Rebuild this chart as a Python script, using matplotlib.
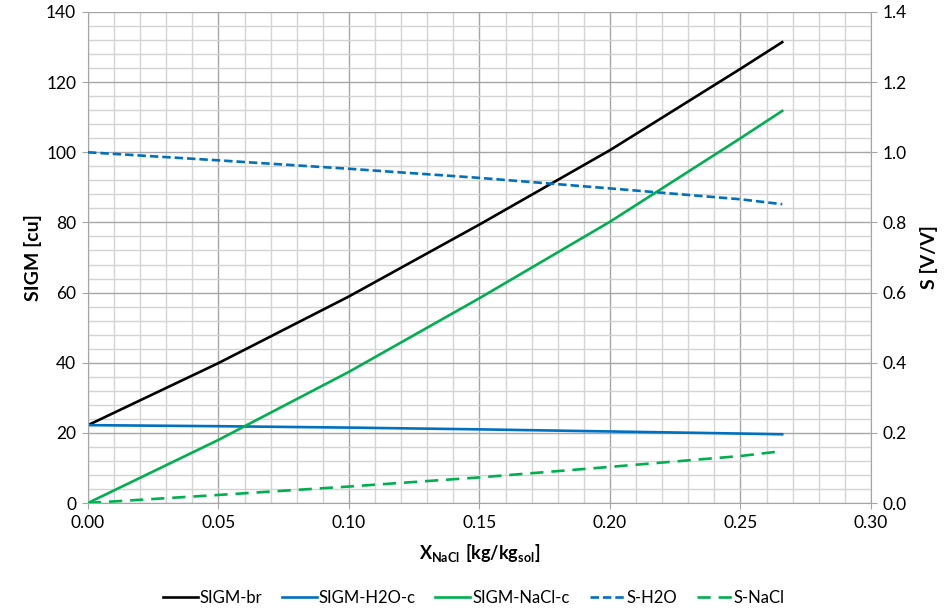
import matplotlib
matplotlib.use("Agg")
import matplotlib.pyplot as plt
from matplotlib.ticker import MultipleLocator, FormatStrFormatter

plt.rcParams['font.family'] = ['Lato', 'DejaVu Sans']
plt.rcParams['mathtext.fontset'] = 'custom'
plt.rcParams['mathtext.rm'] = 'Lato'
plt.rcParams['mathtext.bf'] = 'Lato:bold'

# NaCl mass fraction
x_nacl = [0.0, 0.05, 0.10, 0.15, 0.20, 0.25, 0.266]

# capture cross sections [cu]
sigm_br = [22.2, 39.9, 58.9, 79.4, 100.6, 123.8, 131.4]
sigm_h2o_c = [22.2, 21.9, 21.5, 21.0, 20.4, 19.8, 19.6]
sigm_nacl_c = [0.0, 18.0, 37.4, 58.4, 80.2, 104.0, 111.8]

# volume fractions [V/V]
s_h2o = [1.000, 0.977, 0.953, 0.927, 0.897, 0.866, 0.852]
s_nacl = [0.000, 0.023, 0.047, 0.073, 0.103, 0.134, 0.148]

BLUE = '#0070C0'
GREEN = '#00B050'

fig = plt.figure(figsize=(9.47, 6.15), dpi=100)
ax = fig.add_axes([0.0929, 0.1821, 0.8268, 0.7984])
ax2 = ax.twinx()

l1, = ax.plot(x_nacl, sigm_br, color='black', lw=1.9, label='SIGM-br')
l2, = ax.plot(x_nacl, sigm_h2o_c, color=BLUE, lw=1.9, label='SIGM-H2O-c')
l3, = ax.plot(x_nacl, sigm_nacl_c, color=GREEN, lw=1.9, label='SIGM-NaCl-c')
l4, = ax2.plot(x_nacl, s_h2o, color=BLUE, lw=1.9, dashes=(3.2, 1.5), label='S-H2O')
l5, = ax2.plot(x_nacl, s_nacl, color=GREEN, lw=1.9, dashes=(5.0, 3.0), label='S-NaCl')

ax.set_xlim(0, 0.30)
ax.set_ylim(0, 140)
ax2.set_ylim(0, 1.4)

ax.xaxis.set_major_locator(MultipleLocator(0.05))
ax.xaxis.set_minor_locator(MultipleLocator(0.01))
ax.yaxis.set_major_locator(MultipleLocator(20))
ax.yaxis.set_minor_locator(MultipleLocator(4))
ax.xaxis.set_major_formatter(FormatStrFormatter('%.2f'))
ax2.yaxis.set_major_locator(MultipleLocator(0.2))
ax2.yaxis.set_major_formatter(FormatStrFormatter('%.1f'))

ax.grid(which='major', color='#a6a6a6', lw=1.0)
ax.grid(which='minor', color='#d4d4d4', lw=1.0)
ax.set_axisbelow(True)

for a in (ax, ax2):
    a.spines['top'].set_visible(False)
    a.spines['left'].set_color('#a6a6a6')
    a.spines['right'].set_color('#a6a6a6')
    a.spines['bottom'].set_color('#a6a6a6')
ax.spines['right'].set_visible(False)
ax2.spines['left'].set_visible(False)
ax2.spines['bottom'].set_visible(False)

ax.tick_params(which='major', length=4.5, color='#a6a6a6', labelsize=12.5, pad=4)
ax.tick_params(which='minor', length=0)
ax2.tick_params(which='major', length=4.5, color='#a6a6a6', labelsize=12.5, pad=4)
ax2.tick_params(which='minor', length=0)

ax.set_ylabel('SIGM [cu]', fontsize=14, fontweight='bold', labelpad=3)
ax2.set_ylabel('S [V/V]', fontsize=14, fontweight='bold', labelpad=9)
ax.set_xlabel(r'$\mathbf{X_{NaCl}\ [kg/kg_{sol}]}$', fontsize=13, labelpad=8)

fig.legend(handles=[l1, l2, l3, l4, l5], loc='center', bbox_to_anchor=(0.5, 0.028),
           ncol=5, frameon=False, fontsize=12, handlelength=2.1, handletextpad=0.1,
           columnspacing=1.2)

fig.savefig('out.png', dpi=100)
